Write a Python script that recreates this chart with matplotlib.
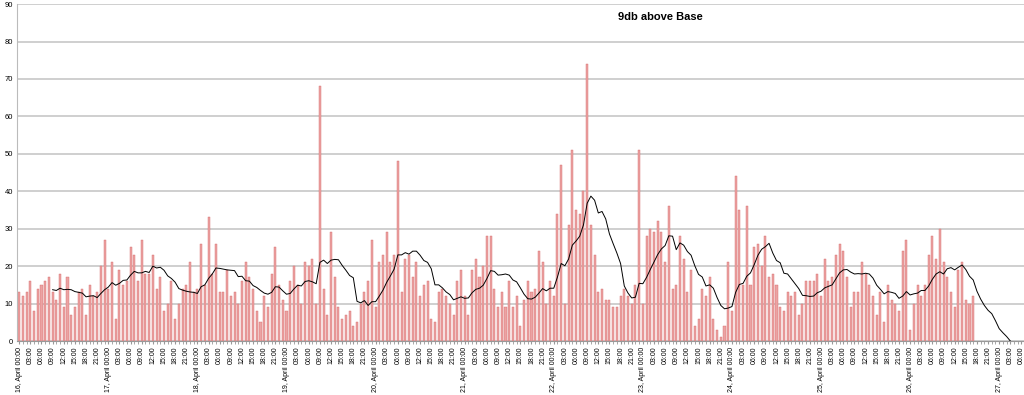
import numpy as np
import pandas as pd
import matplotlib
matplotlib.use('Agg')
import matplotlib.pyplot as plt

# hourly counts, 16 April 00:00 -> 26 April 17:00
counts = [
    13, 12, 13, 16, 8, 14, 15, 16, 17, 13,
    11, 18, 9, 17, 7, 9, 13, 14, 7, 15,
    12, 13, 20, 27, 14, 21, 6, 19, 15, 16,
    25, 23, 16, 27, 18, 18, 23, 14, 17, 8,
    10, 16, 6, 10, 14, 15, 21, 13, 14, 26,
    15, 33, 18, 26, 13, 13, 19, 12, 13, 10,
    16, 21, 17, 14, 8, 5, 12, 9, 18, 25,
    15, 11, 8, 16, 20, 15, 10, 21, 20, 22,
    10, 68, 14, 7, 29, 17, 9, 6, 7, 8,
    4, 5, 10, 13, 16, 27, 9, 21, 23, 29,
    21, 23, 48, 13, 22, 23, 17, 21, 12, 15,
    16, 6, 5, 13, 14, 12, 10, 7, 16, 19,
    12, 7, 19, 22, 17, 20, 28, 28, 14, 9,
    13, 9, 16, 9, 12, 4, 11, 16, 13, 14,
    24, 21, 10, 16, 12, 34, 47, 10, 31, 51,
    35, 34, 40, 74, 31, 23, 13, 14, 11, 11,
    9, 9, 12, 14, 12, 10, 15, 51, 10, 28,
    30, 29, 32, 29, 21, 36, 14, 15, 28, 22,
    13, 19, 4, 6, 14, 12, 17, 6, 3, 1,
    4, 21, 8, 44, 35, 15, 36, 15, 25, 26,
    20, 28, 17, 18, 15, 9, 8, 13, 12, 13,
    7, 10, 16, 16, 16, 18, 12, 22, 16, 17,
    23, 26, 24, 17, 9, 13, 13, 21, 18, 15,
    12, 7, 13, 5, 15, 11, 10, 8, 24, 27,
    3, 10, 15, 12, 15, 23, 28, 22, 30, 21,
    17, 13, 9, 19, 21, 11, 10, 12,
]
first_day = 16
n_hours = 273          # category slots on the axis (to 27 April 08:00)
ma_period = 10
title = '9db above Base'

# empty cells after the last reading count as zero in the moving average
s = pd.Series(counts + [0] * (ma_period))
ma = s.rolling(ma_period).mean()

x = np.arange(len(counts))

fig = plt.figure(figsize=(10.24, 3.95), dpi=100)
ax = fig.add_axes([0.0166, 0.1367, 0.99, 0.853])

ax.bar(x, counts, width=0.55, color='#eba3a3', edgecolor='#d86a6a', linewidth=0.3, zorder=2)
ax.plot(np.arange(len(ma)), ma, color='black', linewidth=0.7, zorder=3)

ax.set_ylim(0, 90)
ax.set_yticks(range(0, 91, 10))
ax.set_xlim(-0.6, n_hours - 0.5)
ax.grid(axis='y', color='#cfcfcf', linewidth=1.4, zorder=0)
ax.set_axisbelow(True)

ticks = list(range(0, n_hours, 3))
labels = []
for h in ticks:
    if h % 24 == 0:
        labels.append('%d, April 00:00' % (first_day + h // 24))
    else:
        labels.append('%02d:00' % (h % 24))
ax.set_xticks(ticks)
ax.set_xticklabels(labels, rotation=90, fontsize=5, family='Liberation Sans')
ax.set_xticks(np.arange(n_hours), minor=True)
ax.tick_params(axis='x', which='both', length=2, color='#999999', pad=2)
ax.tick_params(axis='y', length=0, labelsize=5.5, pad=3)
for lab in ax.get_yticklabels():
    lab.set_family('Liberation Sans')

for side in ['top', 'right']:
    ax.spines[side].set_visible(False)
ax.spines['left'].set_color('#bbbbbb')
ax.spines['bottom'].set_color('#999999')

fig.text(0.645, 0.957, title, ha='center', va='center', fontsize=8, fontweight='bold',
         family='Liberation Sans')

fig.savefig('out.png', dpi=100)
